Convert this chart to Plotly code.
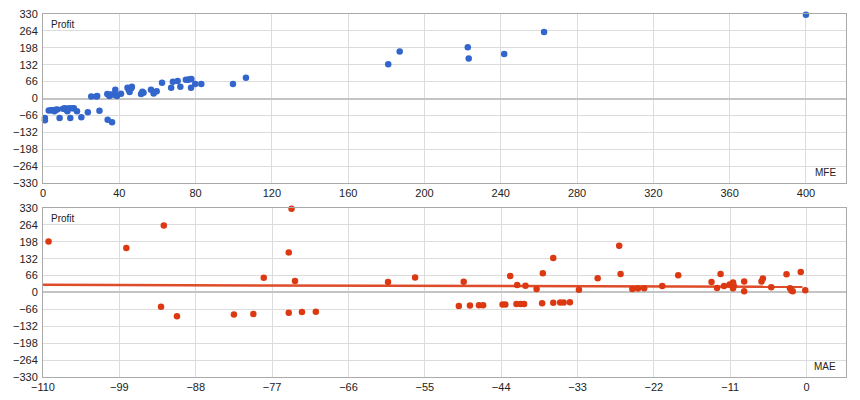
"""MFE / MAE vs Profit scatter charts (two stacked panels)."""

import plotly.graph_objects as go
from plotly.subplots import make_subplots

# ---------------------------------------------------------------------------
# Data
# ---------------------------------------------------------------------------

mfe_values = [
    1.0, 1.0, 3.0, 4.2, 5.3, 6.0, 6.6, 7.5, 8.7, 10.5, 11.5, 12.2, 12.8,
    13.6, 14.3, 15.3, 16.2, 17.8, 20.1, 23.5, 25.3, 28.0, 28.4, 29.6, 33.7,
    33.9, 34.8, 35.4, 36.2, 36.7, 37.9, 38.3, 38.8, 40.9, 44.3, 44.9, 45.4,
    46.3, 46.6, 51.4, 52.1, 52.7, 56.6, 58.0, 59.6, 62.4, 67.2, 68.1, 70.6,
    72.0, 74.9, 76.0, 77.1, 77.8, 77.6, 79.8, 83.0, 99.6, 106.4, 181.0,
    187.0, 222.7, 223.2, 241.8, 262.7, 400.0,
]
mfe_profit = [
    -76, -85, -47, -46, -46, -50, -44, -43, -76, -40, -38, -44, -50,
    -38, -76, -38, -38, -50, -73, -54, 8, 8, 10, -48, 18,
    -83, 10, 16, -93, 16, 34, 13, 10, 19, 42, 35, 25,
    40, 46, 18, 26, 22, 34, 20, 28, 62, 42, 65, 68,
    46, 73, 73, 75, 76, 42, 57, 57, 57, 81, 134,
    184, 200, 156, 174, 260, 327,
]

mae_values = [
    -109.2, -98.0, -93.0, -92.6, -90.7, -82.5, -79.7, -78.2, -74.6, -74.6,
    -74.2, -73.7, -72.7, -70.7, -60.3, -56.4, -50.1, -49.4, -48.5, -47.2,
    -46.6, -43.8, -43.4, -42.7, -41.8, -41.7, -41.2, -40.7, -40.5, -38.9,
    -38.1, -38.0, -36.5, -36.5, -35.5, -35.0, -34.1, -32.8, -30.1, -27.0,
    -26.8, -25.1, -24.3, -23.4, -20.8, -18.5, -13.7, -12.9, -12.4, -11.9,
    -11.1, -10.8, -10.6, -10.6, -10.5, -9.0, -9.0, -6.5, -6.3, -5.1,
    -2.9, -2.4, -2.2, -2.0, -0.85, -0.2,
]
mae_profit = [
    199, 174, -56, 262, -93, -86, -84, 58, -79, 156,
    327, 45, -76, -75, 41, 59, -53, 42, -51, -50,
    -50, -47, -47, 64, -45, 29, -45, -45, 26, 14,
    -42, 75, 135, -40, -39, -39, -38, 11, 56, 183,
    72, 14, 16, 17, 25, 67, 41, 18, 72, 25,
    31, 31, 17, 39, 26, 43, 5, 43, 55, 20,
    71, 17, 8, 5, 80, 9,
]

# linear trendline of the MAE panel (end points)
mae_trend_x = [-110.0, -0.6]
mae_trend_y = [30, 22]

profit_ticks = [-330, -264, -198, -132, -66, 0, 66, 132, 198, 264, 330]
mfe_ticks = [0, 40, 80, 120, 160, 200, 240, 280, 320, 360, 400]
mae_ticks = [-110, -99, -88, -77, -66, -55, -44, -33, -22, -11, 0]

# ---------------------------------------------------------------------------
# Styling
# ---------------------------------------------------------------------------

BLUE = '#3366cc'
RED = '#dc3912'
GRID = '#dcdcdc'
FONT = dict(family='Arial, Liberation Sans, sans-serif', size=11, color='#222222')

fig = make_subplots(rows=2, cols=1, vertical_spacing=0.0)

fig.add_trace(go.Scatter(
    x=mfe_values, y=mfe_profit, mode='markers',
    marker=dict(color=BLUE, size=6.5),
    cliponaxis=False,
    showlegend=False,
), row=1, col=1)

fig.add_trace(go.Scatter(
    x=mae_values, y=mae_profit, mode='markers',
    marker=dict(color=RED, size=6.5),
    cliponaxis=False,
    showlegend=False,
), row=2, col=1)

fig.add_trace(go.Scatter(
    x=mae_trend_x, y=mae_trend_y, mode='lines',
    line=dict(color=RED, width=2.5),
    opacity=0.9,
    showlegend=False,
), row=2, col=1)

axis_common = dict(
    showgrid=True, gridcolor=GRID, gridwidth=1,
    showline=True, linecolor='#aaaaaa', linewidth=1, mirror=True,
    ticks='', tickfont=FONT, fixedrange=True, automargin=False,
    ticklabeloverflow='allow',
)

fig.update_xaxes(
    range=[0, 421], tickvals=mfe_ticks, zeroline=False,
    domain=[0, 1], **axis_common, row=1, col=1,
)
fig.update_xaxes(
    range=[-110, 5.67], tickvals=mae_ticks, zeroline=False,
    domain=[0, 1], **axis_common, row=2, col=1,
)
for r in (1, 2):
    fig.update_yaxes(
        range=[-330, 330], tickvals=profit_ticks,
        zeroline=True, zerolinecolor='#c4c4c4', zerolinewidth=2,
        ticklabelstandoff=2,
        **axis_common, row=r, col=1,
    )

fig.update_yaxes(domain=[0.5344, 1.0], row=1, col=1)
fig.update_yaxes(domain=[0.0, 0.4656], row=2, col=1)

# in-plot axis titles
labels = [
    ('x domain', 'y domain', 0.008, 0.985, 'Profit', 'left', 'top'),
    ('x domain', 'y domain', 0.99, 0.02, 'MFE', 'right', 'bottom'),
    ('x2 domain', 'y2 domain', 0.008, 0.985, 'Profit', 'left', 'top'),
    ('x2 domain', 'y2 domain', 0.99, 0.02, 'MAE', 'right', 'bottom'),
]
for xref, yref, x, y, text, xa, ya in labels:
    fig.add_annotation(
        xref=xref, yref=yref, x=x, y=y, text=text, showarrow=False,
        xanchor=xa, yanchor=ya, font=dict(family=FONT['family'], size=10, color='#222222'),
    )

# the page adds an ~8px body margin, so the margins are shifted to compensate
fig.update_layout(
    width=860, height=400,
    margin=dict(l=35, r=22, t=6, b=31),
    paper_bgcolor='white', plot_bgcolor='white',
    font=FONT,
)

fig.write_html('out.html')
